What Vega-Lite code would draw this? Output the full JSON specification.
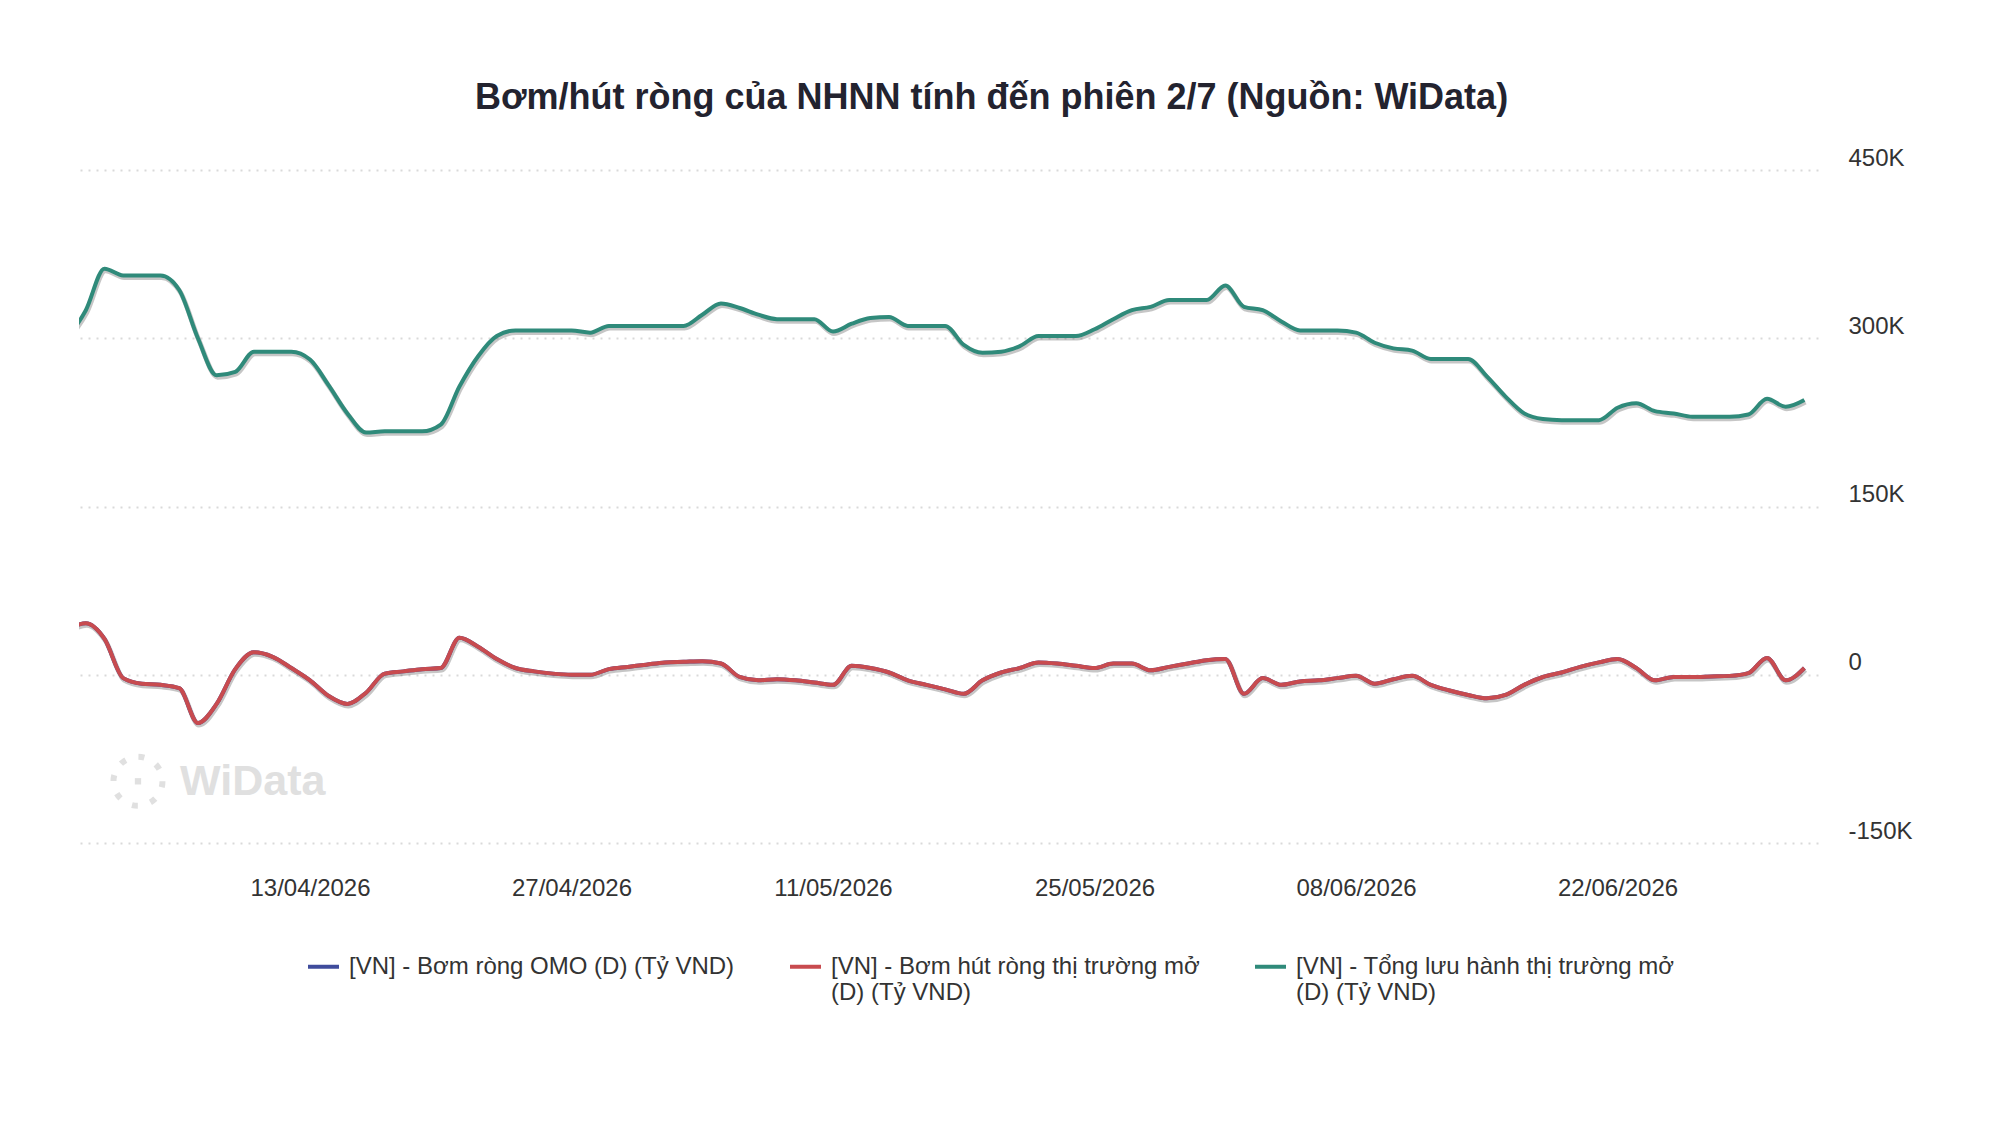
{
  "$schema": "https://vega.github.io/schema/vega-lite/v6.json",
  "width": 1739,
  "height": 673,
  "autosize": {"type": "none"},
  "padding": {"left": 79, "top": 170, "right": 182, "bottom": 301},
  "background": "white",
  "config": {"view": {"stroke": null}, "font": "Liberation Sans"},
  "title": {
    "text": "Bơm/hút ròng của NHNN tính đến phiên 2/7 (Nguồn: WiData)",
    "anchor": "middle", "frame": "group", "dx": 43, "offset": 1, "baseline": "alphabetic",
    "font": "Liberation Sans", "fontSize": 36, "fontWeight": "bold", "color": "#23232f"
  },
  "datasets": {
    "series": [
    {"d":"2026-03-31","omo":40000,"net":40000,"tot":300000},
    {"d":"2026-04-01","omo":46000,"net":46000,"tot":325000},
    {"d":"2026-04-02","omo":32000,"net":32000,"tot":362000},
    {"d":"2026-04-03","omo":-3000,"net":-3000,"tot":356000},
    {"d":"2026-04-04","omo":-8000,"net":-8000,"tot":356000},
    {"d":"2026-04-05","omo":-9000,"net":-9000,"tot":356000},
    {"d":"2026-04-06","omo":-12000,"net":-12000,"tot":343000},
    {"d":"2026-04-07","omo":-43000,"net":-43000,"tot":300000},
    {"d":"2026-04-08","omo":-26000,"net":-26000,"tot":267000},
    {"d":"2026-04-09","omo":5000,"net":5000,"tot":270000},
    {"d":"2026-04-10","omo":20000,"net":20000,"tot":288000},
    {"d":"2026-04-11","omo":16000,"net":16000,"tot":288000},
    {"d":"2026-04-12","omo":6000,"net":6000,"tot":288000},
    {"d":"2026-04-13","omo":-5000,"net":-5000,"tot":281000},
    {"d":"2026-04-14","omo":-19000,"net":-19000,"tot":258000},
    {"d":"2026-04-15","omo":-26000,"net":-26000,"tot":233000},
    {"d":"2026-04-16","omo":-16000,"net":-16000,"tot":216000},
    {"d":"2026-04-17","omo":1000,"net":1000,"tot":217000},
    {"d":"2026-04-18","omo":3000,"net":3000,"tot":217000},
    {"d":"2026-04-19","omo":5000,"net":5000,"tot":217000},
    {"d":"2026-04-20","omo":6000,"net":6000,"tot":223000},
    {"d":"2026-04-21","omo":33000,"net":33000,"tot":257000},
    {"d":"2026-04-22","omo":25000,"net":25000,"tot":284000},
    {"d":"2026-04-23","omo":14000,"net":14000,"tot":302000},
    {"d":"2026-04-24","omo":6000,"net":6000,"tot":307000},
    {"d":"2026-04-25","omo":3000,"net":3000,"tot":307000},
    {"d":"2026-04-26","omo":1000,"net":1000,"tot":307000},
    {"d":"2026-04-27","omo":0,"net":0,"tot":307000},
    {"d":"2026-04-28","omo":0,"net":0,"tot":305000},
    {"d":"2026-04-29","omo":5000,"net":5000,"tot":311000},
    {"d":"2026-04-30","omo":7000,"net":7000,"tot":311000},
    {"d":"2026-05-01","omo":9000,"net":9000,"tot":311000},
    {"d":"2026-05-02","omo":11000,"net":11000,"tot":311000},
    {"d":"2026-05-03","omo":11500,"net":11500,"tot":311000},
    {"d":"2026-05-04","omo":12000,"net":12000,"tot":321000},
    {"d":"2026-05-05","omo":10000,"net":10000,"tot":331000},
    {"d":"2026-05-06","omo":-2000,"net":-2000,"tot":327000},
    {"d":"2026-05-07","omo":-5000,"net":-5000,"tot":321000},
    {"d":"2026-05-08","omo":-4000,"net":-4000,"tot":317000},
    {"d":"2026-05-09","omo":-5000,"net":-5000,"tot":317000},
    {"d":"2026-05-10","omo":-7000,"net":-7000,"tot":317000},
    {"d":"2026-05-11","omo":-9000,"net":-9000,"tot":306000},
    {"d":"2026-05-12","omo":8000,"net":8000,"tot":313000},
    {"d":"2026-05-13","omo":6000,"net":6000,"tot":318000},
    {"d":"2026-05-14","omo":2000,"net":2000,"tot":319000},
    {"d":"2026-05-15","omo":-5000,"net":-5000,"tot":311000},
    {"d":"2026-05-16","omo":-9000,"net":-9000,"tot":311000},
    {"d":"2026-05-17","omo":-13000,"net":-13000,"tot":311000},
    {"d":"2026-05-18","omo":-17000,"net":-17000,"tot":294000},
    {"d":"2026-05-19","omo":-5000,"net":-5000,"tot":287000},
    {"d":"2026-05-20","omo":2000,"net":2000,"tot":288000},
    {"d":"2026-05-21","omo":6000,"net":6000,"tot":293000},
    {"d":"2026-05-22","omo":11000,"net":11000,"tot":302000},
    {"d":"2026-05-23","omo":10000,"net":10000,"tot":302000},
    {"d":"2026-05-24","omo":8000,"net":8000,"tot":302000},
    {"d":"2026-05-25","omo":6000,"net":6000,"tot":308000},
    {"d":"2026-05-26","omo":10000,"net":10000,"tot":317000},
    {"d":"2026-05-27","omo":10000,"net":10000,"tot":325000},
    {"d":"2026-05-28","omo":4000,"net":4000,"tot":328000},
    {"d":"2026-05-29","omo":7000,"net":7000,"tot":334000},
    {"d":"2026-05-30","omo":10000,"net":10000,"tot":334000},
    {"d":"2026-05-31","omo":13000,"net":13000,"tot":334000},
    {"d":"2026-06-01","omo":14000,"net":14000,"tot":347000},
    {"d":"2026-06-02","omo":-17000,"net":-17000,"tot":328000},
    {"d":"2026-06-03","omo":-3000,"net":-3000,"tot":325000},
    {"d":"2026-06-04","omo":-9000,"net":-9000,"tot":315000},
    {"d":"2026-06-05","omo":-6000,"net":-6000,"tot":307000},
    {"d":"2026-06-06","omo":-5000,"net":-5000,"tot":307000},
    {"d":"2026-06-07","omo":-3000,"net":-3000,"tot":307000},
    {"d":"2026-06-08","omo":-1000,"net":-1000,"tot":305000},
    {"d":"2026-06-09","omo":-8000,"net":-8000,"tot":296000},
    {"d":"2026-06-10","omo":-4000,"net":-4000,"tot":291000},
    {"d":"2026-06-11","omo":-1000,"net":-1000,"tot":289000},
    {"d":"2026-06-12","omo":-9000,"net":-9000,"tot":281500},
    {"d":"2026-06-13","omo":-14000,"net":-14000,"tot":281500},
    {"d":"2026-06-14","omo":-18000,"net":-18000,"tot":281500},
    {"d":"2026-06-15","omo":-21000,"net":-21000,"tot":266000},
    {"d":"2026-06-16","omo":-18000,"net":-18000,"tot":248000},
    {"d":"2026-06-17","omo":-9000,"net":-9000,"tot":233000},
    {"d":"2026-06-18","omo":-2000,"net":-2000,"tot":228000},
    {"d":"2026-06-19","omo":2000,"net":2000,"tot":227000},
    {"d":"2026-06-20","omo":7000,"net":7000,"tot":227000},
    {"d":"2026-06-21","omo":11000,"net":11000,"tot":227000},
    {"d":"2026-06-22","omo":14000,"net":14000,"tot":238000},
    {"d":"2026-06-23","omo":6000,"net":6000,"tot":242000},
    {"d":"2026-06-24","omo":-5000,"net":-5000,"tot":235000},
    {"d":"2026-06-25","omo":-2000,"net":-2000,"tot":233000},
    {"d":"2026-06-26","omo":-2000,"net":-2000,"tot":230000},
    {"d":"2026-06-27","omo":-1500,"net":-1500,"tot":230000},
    {"d":"2026-06-28","omo":-1000,"net":-1000,"tot":230000},
    {"d":"2026-06-29","omo":1500,"net":1500,"tot":232000},
    {"d":"2026-06-30","omo":15000,"net":15000,"tot":246000},
    {"d":"2026-07-01","omo":-5000,"net":-5000,"tot":239000},
    {"d":"2026-07-02","omo":6000,"net":6000,"tot":245000}
    ],
    "wm": [{"name": "WiData"}]
  },
  "layer": [
    {
      "data": {"name": "series"},
      "transform": [{"fold": ["omo", "net", "tot"], "as": ["s", "v"]}],
      "encoding": {
        "x": {
          "field": "d", "type": "temporal",
          "scale": {"type": "utc", "domain": [
            {"year": 2026, "month": 3, "date": 31, "hours": 15, "minutes": 13, "utc": true},
            {"year": 2026, "month": 7, "date": 2, "hours": 17, "minutes": 30, "utc": true}
          ]},
          "axis": {
            "title": null, "grid": false, "ticks": false, "tickSize": 0, "domain": false,
            "values": [
              {"year": 2026, "month": 4, "date": 13, "utc": true},
              {"year": 2026, "month": 4, "date": 27, "utc": true},
              {"year": 2026, "month": 5, "date": 11, "utc": true},
              {"year": 2026, "month": 5, "date": 25, "utc": true},
              {"year": 2026, "month": 6, "date": 8, "utc": true},
              {"year": 2026, "month": 6, "date": 22, "utc": true}
            ],
            "labelExpr": "utcFormat(datum.value, '%d/%m/%Y')",
            "labelFont": "Liberation Sans", "labelFontSize": 24, "labelColor": "#333333",
            "labelPadding": 52, "labelBaseline": "alphabetic", "labelFlush": false, "labelOverlap": false
          }
        },
        "y": {
          "field": "v", "type": "quantitative",
          "scale": {"domain": [-150000, 450000], "nice": false, "zero": false},
          "axis": {
            "orient": "right", "title": null, "ticks": false, "tickSize": 0, "domain": false,
            "values": [-150000, 0, 150000, 300000, 450000],
            "grid": true, "gridColor": "#d9d9d9", "gridDash": [2, 6], "gridWidth": 2,
            "labelExpr": "datum.value == 0 ? '0' : (datum.value / 1000) + 'K'",
            "labelFont": "Liberation Sans", "labelFontSize": 24, "labelColor": "#333333",
            "labelPadding": 30, "labelAlign": "left", "labelBaseline": "alphabetic", "labelOffset": -5
          }
        }
      },
      "layer": [
        {
          "transform": [{"filter": "datum.s != 'omo'"}],
          "mark": {"type": "line", "interpolate": "monotone", "strokeWidth": 5, "xOffset": 1, "yOffset": 2, "opacity": 0.28, "clip": true, "color": "#333333"},
          "encoding": {"detail": {"field": "s"}}
        },
        {
          "mark": {"type": "line", "interpolate": "monotone", "strokeWidth": 4, "clip": true},
          "encoding": {
            "color": {
              "field": "s", "type": "nominal",
              "scale": {"domain": ["omo", "net", "tot"], "range": ["#3f4c9c", "#c84b4f", "#2f8a7a"]},
              "legend": {
                "title": null, "orient": "none", "legendX": 227, "legendY": 779,
                "direction": "horizontal", "columns": 3, "columnPadding": 47, "padding": 0,
                "symbolType": "stroke", "symbolSize": 961, "symbolStrokeWidth": 4,
                "labelFont": "Liberation Sans", "labelFontSize": 24, "labelColor": "#333333",
                "labelOffset": 8, "labelLimit": 800, "labelBaseline": "middle",
                "labelExpr": "datum.label == 'omo' ? ['[VN] - Bơm ròng OMO (D) (Tỷ VND)', ''] : datum.label == 'net' ? ['[VN] - Bơm hút ròng thị trường mở', '(D) (Tỷ VND)'] : ['[VN] - Tổng lưu hành thị trường mở', '(D) (Tỷ VND)']"
              }
            }
          }
        }
      ]
    },
    {
      "data": {"name": "wm"},
      "mark": {"type": "text", "align": "left", "baseline": "middle", "font": "Liberation Sans", "fontSize": 43, "fontWeight": "bold", "fill": "#e0e0e0"},
      "encoding": {
        "x": {"datum": 1775437200000, "type": "temporal", "title": null},
        "y": {"datum": -96000, "type": "quantitative", "title": null},
        "text": {"field": "name"}
      }
    },
    {
      "data": {"name": "wm"},
      "mark": {"type": "point", "shape": "circle", "filled": false, "size": 2400, "strokeWidth": 6, "strokeDash": [6, 13.2], "stroke": "#e0e0e0", "opacity": 1},
      "encoding": {
        "x": {"datum": 1775242800000, "type": "temporal", "title": null},
        "y": {"datum": -95000, "type": "quantitative", "title": null}
      }
    },
    {
      "data": {"name": "wm"},
      "mark": {"type": "point", "shape": "square", "filled": true, "size": 40, "fill": "#e0e0e0", "opacity": 1},
      "encoding": {
        "x": {"datum": 1775242800000, "type": "temporal", "title": null},
        "y": {"datum": -95000, "type": "quantitative", "title": null}
      }
    }
  ]
}
